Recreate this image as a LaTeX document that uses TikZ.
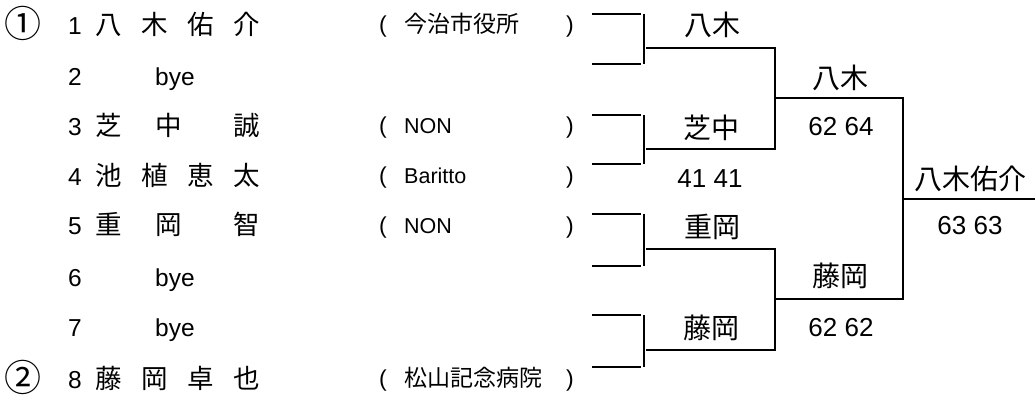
\documentclass[tikz,border=0pt]{standalone}
\usepackage{fontspec}
\setmainfont{Liberation Sans}
\newfontfamily\jp{Noto Sans CJK JP}
\begin{document}
\begin{tikzpicture}[x=1pt,y=-1pt,
  seed/.style={inner sep=0pt, font=\fontsize{24.5}{28}\selectfont, anchor=base west},
  jpn/.style={inner sep=0pt, font=\jp\fontsize{26.5}{30}\selectfont, anchor=base west},
  aff/.style={inner sep=0pt, font=\fontsize{21.5}{26}\selectfont, anchor=base west},
  affjp/.style={inner sep=0pt, font=\jp\fontsize{23}{26}\selectfont, anchor=base west},
  paren/.style={inner sep=0pt, font=\fontsize{23}{26}\selectfont, anchor=base},
  circ/.style={inner sep=0pt, font=\jp\fontsize{37}{40}\selectfont, anchor=center},
  win/.style={inner sep=0pt, font=\jp\fontsize{28}{32}\selectfont, anchor=base},
  score/.style={inner sep=0pt, font=\fontsize{26}{30}\selectfont, anchor=base},
  thinline/.style={line width=1.2pt},
  thickline/.style={line width=2.8pt, line join=miter},
]
\fill[white] (0,0) rectangle (1035,396);
\useasboundingbox (0,0) rectangle (1035,396);

% seed marks
\node[circ] (c1) at (23,23) {①};
\node[circ] (c2) at (23,377) {②};

% seed numbers
\node[seed] (n1) at (68,35) {1};
\node[seed] (n2) at (68,85) {2};
\node[seed] (n3) at (68,135) {3};
\node[seed] (n4) at (68,185) {4};
\node[seed] (n5) at (68,234) {5};
\node[seed] (n6) at (68,286) {6};
\node[seed] (n7) at (68,336) {7};
\node[seed] (n8) at (68,388) {8};

% names
\node[jpn] (p1) at (95,35) {\makebox[165pt][l]{八\hfill 木\hfill 佑\hfill 介}};
\node[seed] (p2) at (155,85) {bye};
\node[jpn] (p3) at (95,135) {\makebox[165pt][l]{芝\hspace{0pt plus 1fill}中\hspace{0pt plus 1.5fill}誠}};
\node[jpn] (p4) at (95,185) {\makebox[165pt][l]{池\hfill 植\hfill 恵\hfill 太}};
\node[jpn] (p5) at (95,234) {\makebox[165pt][l]{重\hspace{0pt plus 1fill}岡\hspace{0pt plus 1.5fill}智}};
\node[seed] (p6) at (155,286) {bye};
\node[seed] (p7) at (155,336) {bye};
\node[jpn] (p8) at (95,388) {\makebox[165pt][l]{藤\hfill 岡\hfill 卓\hfill 也}};

% affiliations
\node[paren] (l1) at (383,33) {(};
\node[affjp] (a1) at (404,33) {今治市役所};
\node[paren] (r1) at (570,33) {)};
\node[paren] (l3) at (383,133) {(};
\node[aff] (a3) at (404,133) {NON};
\node[paren] (r3) at (570,133) {)};
\node[paren] (l4) at (383,183) {(};
\node[aff] (a4) at (404,183) {Baritto};
\node[paren] (r4) at (570,183) {)};
\node[paren] (l5) at (383,233) {(};
\node[aff] (a5) at (404,233) {NON};
\node[paren] (r5) at (570,233) {)};
\node[paren] (l8) at (383,386) {(};
\node[affjp] (a8) at (404,386) {松山記念病院};
\node[paren] (r8) at (570,386) {)};

% first-round stubs
\foreach \t/\b/\j/\k in {14/64/48/1, 115/164/149/2, 214/266/249/3, 315/367/350/4}{
  \coordinate (s\k a) at (592,\t);
  \coordinate (e\k a) at (641,\t);
  \coordinate (s\k b) at (592,\b);
  \coordinate (e\k b) at (641,\b);
  \coordinate (v\k a) at (644,\t);
  \coordinate (v\k b) at (644,\b);
  \coordinate (j\k) at (646,\j);
  \coordinate (k\k) at (775,\j);
  \draw[thinline] (s\k a) -- (e\k a);
  \draw[thinline] (s\k b) -- (e\k b);
  \draw[thinline] (v\k a) -- (v\k b);
}

% second round
\coordinate (m1) at (775,98);
\coordinate (m2) at (775,299);
\coordinate (f1) at (903,98);
\coordinate (f2) at (903,299);
\coordinate (fm) at (903,199);
\coordinate (fe) at (1035,199);
\draw[thickline] (j1) -- (k1) -- (k2) -- (j2);
\draw[thickline] (j3) -- (k3) -- (k4) -- (j4);
\draw[thickline] (m1) -- (f1) -- (f2) -- (m2);
\draw[thickline] (fm) -- (fe);

% winners and scores
\node[win] (w1) at (712,36) {八木};
\node[win] (w2) at (711,138) {芝中};
\node[score] (sc1) at (710,187) {41 41};
\node[win] (w3) at (712,237) {重岡};
\node[win] (w4) at (711,338) {藤岡};
\node[win] (w5) at (840,88) {八木};
\node[score] (sc2) at (841,135) {62 64};
\node[win] (w6) at (840,286) {藤岡};
\node[score] (sc3) at (841,336) {62 62};
\node[win] (w7) at (970,189) {八木佑介};
\node[score] (sc4) at (970,234) {63 63};
\end{tikzpicture}
\end{document}
